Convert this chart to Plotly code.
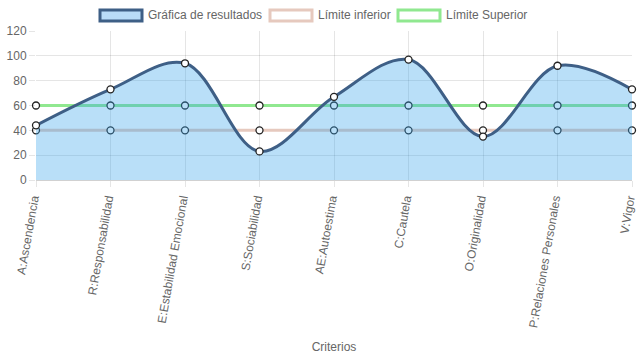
import plotly.graph_objects as go

categorias = ["A:Ascendencia", "R:Responsabilidad", "E:Estabilidad Emocional",
              "S:Sociabilidad", "AE:Autoestima", "C:Cautela", "O:Originalidad",
              "P:Relaciones Personales", "V:Vigor"]
resultados = [44, 73, 94, 23, 67, 97, 35, 92, 73]
limite_inferior = [40, 40, 40, 40, 40, 40, 40, 40, 40]
limite_superior = [60, 60, 60, 60, 60, 60, 60, 60, 60]
nombres = ["Gráfica de resultados", "Límite inferior", "Límite Superior"]
y_ticks = [0, 20, 40, 60, 80, 100, 120]

FONT = "Liberation Sans, Arial, sans-serif"
TXT = "#666666"
C_RES_LINE = "#3e5f86"
C_RES_FILL = "rgba(54,162,235,0.35)"
C_INF = "#e6c9be"
C_SUP = "#90e890"

fig = go.Figure()

marker = dict(size=7, color="white", line=dict(color="#222222", width=1.3))

fig.add_trace(go.Scatter(x=categorias, y=limite_inferior, name=nombres[1], mode="lines+markers",
                         line=dict(color=C_INF, width=3), marker=marker, cliponaxis=False,
                         showlegend=False))
fig.add_trace(go.Scatter(x=categorias, y=limite_superior, name=nombres[2], mode="lines+markers",
                         line=dict(color=C_SUP, width=3), marker=marker, cliponaxis=False,
                         showlegend=False))
fig.add_trace(go.Scatter(x=categorias, y=resultados, name=nombres[0], mode="lines+markers",
                         line=dict(color=C_RES_LINE, width=3, shape="spline", smoothing=1.0),
                         fill="tozeroy", fillcolor=C_RES_FILL, marker=marker, cliponaxis=False,
                         showlegend=False))

# Chart.js-style legend drawn with shapes + text
legend_items = [
    (nombres[0], C_RES_LINE, "rgb(185,220,248)", 100, 142),
    (nombres[1], C_INF, "white", 270, 312),
    (nombres[2], C_SUP, "white", 398, 440),
]
shapes = []
annotations = []
for name, lc, fc, x0, x1 in legend_items:
    shapes.append(dict(type="rect", xref="paper", yref="paper",
                       x0=(x0 - 36) / 596, x1=(x1 - 36) / 596,
                       y0=(180 - 21) / 149, y1=(180 - 10) / 149,
                       line=dict(color=lc, width=3), fillcolor=fc, layer="above"))
    annotations.append(dict(text=name, xref="paper", yref="paper",
                            x=(x1 + 4 - 36) / 596, y=(180 - 15.5) / 149,
                            xanchor="left", yanchor="middle", showarrow=False,
                            font=dict(family=FONT, size=12, color=TXT)))

fig.update_layout(
    template="none",
    width=637, height=359,
    margin=dict(l=36, r=5, t=31, b=179, autoexpand=False),
    paper_bgcolor="white", plot_bgcolor="white",
    font=dict(family=FONT, size=12, color=TXT),
    shapes=shapes, annotations=annotations,
    showlegend=False,
)
fig.update_xaxes(
    type="category", range=[0, 8], tickangle=-80, automargin=False, ticklabelshift=-3,
    showgrid=True, gridcolor="rgba(0,0,0,0.1)", gridwidth=1,
    ticks="outside", ticklen=6, tickcolor="rgba(0,0,0,0.1)",
    showline=False, zeroline=False,
    tickfont=dict(family=FONT, size=12, color=TXT),
    title=dict(text="Criterios", font=dict(family=FONT, size=12, color=TXT), standoff=14),
)
fig.update_yaxes(
    range=[0, 120], tickvals=y_ticks, automargin=False,
    showgrid=True, gridcolor="rgba(0,0,0,0.1)", gridwidth=1,
    ticks="outside", ticklen=6, tickcolor="rgba(0,0,0,0.1)",
    zeroline=True, zerolinecolor="rgba(0,0,0,0.18)", zerolinewidth=1,
    tickfont=dict(family=FONT, size=12, color=TXT),
)

fig.write_html("out.html", config={"displayModeBar": False},
               post_script="document.body.style.margin='0';document.body.style.overflow='hidden';")
